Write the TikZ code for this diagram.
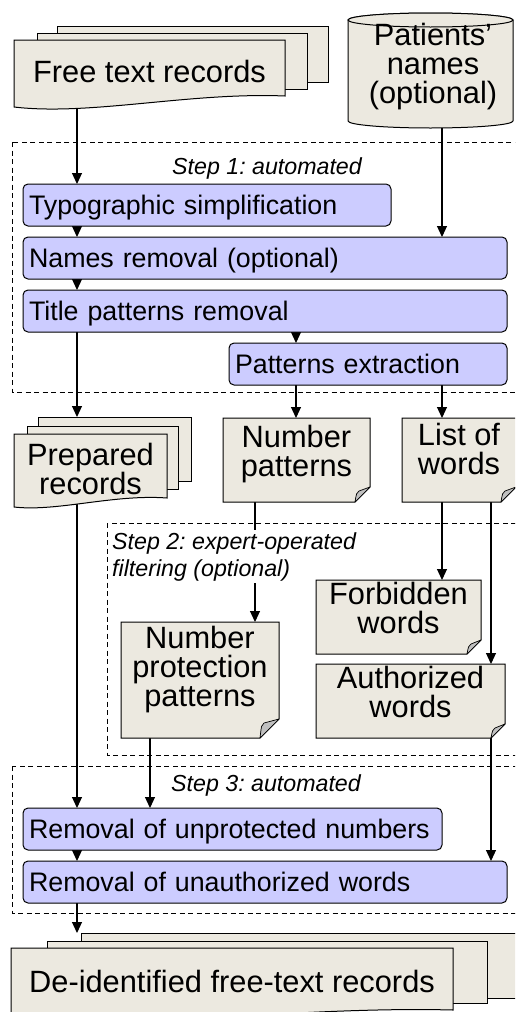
\documentclass[tikz,border=0pt]{standalone}
\usepackage{fontspec}
\setmainfont{Liberation Sans}
\usetikzlibrary{arrows.meta,calc}
\pgfdeclarelayer{bg}
\pgfsetlayers{bg,main}
\definecolor{lav}{RGB}{204,204,255}
\definecolor{docfill}{RGB}{236,233,224}
\definecolor{foldfill}{RGB}{192,192,192}
\newcommand\bigfont{\fontsize{30.8pt}{29pt}\selectfont}
\newcommand\procfont{\fontsize{26.8pt}{30pt}\selectfont}
\newcommand\stepfont{\fontsize{23.2pt}{27pt}\selectfont\itshape}
\lineskiplimit=-100pt
\frenchspacing
% L, T, R, yRight, yLeft, dip
\newcommand\wavedoc[6]{\draw[docshape] (#1,#2) -- (#3,#2) -- (#3,#4) .. controls ({#1+0.65*(#3-#1)},{#4-4}) and ({#1+0.28*(#3-#1)},{#5+#6}) .. (#1,#5) -- cycle;}
% L, T, R, B, fold
\newcommand\notedoc[5]{\draw[docshape] (#1,#2) -- (#3,#2) -- (#3,{#4-#5}) -- ({#3-#5},#4) -- (#1,#4) -- cycle;
  \draw[fold] (#3,{#4-#5}) -- ({#3-#5},#4) .. controls ({#3-#5+1.5},{#4-#5+6}) .. ({#3-#5+4},{#4-#5+4}) -- cycle;}
\tikzset{
  proc/.style={draw=black, fill=lav, line width=1pt, rounded corners=5pt, anchor=north west,
    inner xsep=6pt, inner ysep=0pt, outer sep=0pt, minimum height=42pt,
    text height=19.2pt, text depth=0pt, align=left, font=\procfont},
  docshape/.style={draw=black, fill=docfill, line width=1pt},
  fold/.style={draw=black, fill=foldfill, line width=0.7pt, line join=round},
  frame/.style={draw=black, line width=0.9pt, dash pattern=on 5pt off 3.5pt},
  conn/.style={draw=black, line width=1.1pt, -{Triangle[length=11pt,width=10pt]}},
  bigtext/.style={font=\bigfont, align=center, inner sep=0pt, anchor=north},
  steptext/.style={font=\stepfont, inner sep=0pt},
  area/.style={inner sep=0pt, outer sep=0pt, anchor=north west},
}
\begin{document}
\begin{tikzpicture}[x=1pt,y=-1pt]
\useasboundingbox (0,0) rectangle (515,1012);
\clip (0,0) rectangle (515,1012);

% connector columns
\coordinate (cA) at (77,0);
\coordinate (cB) at (442,0);
\coordinate (cC) at (296,0);
\coordinate (cD) at (255,0);
\coordinate (cE) at (491,0);
\coordinate (cF) at (150,0);

% step frames
\draw[frame] (12,142) rectangle (530,392);
\draw[frame] (107,523) rectangle (530,755);
\draw[frame] (12,766) rectangle (530,913);

% areas of the shapes
\node[area, minimum width=314pt, minimum height=81pt] (ftr) at (14,26) {};
\node[area, minimum width=165pt, minimum height=115pt] (cyl) at (348,13) {};
\node[area, minimum width=177pt, minimum height=94pt] (prep) at (14,417) {};
\node[area, minimum width=147pt, minimum height=84pt] (numpat) at (223,418) {};
\node[area, minimum width=114pt, minimum height=84pt] (low) at (402,418) {};
\node[area, minimum width=165pt, minimum height=74pt] (forb) at (316,580) {};
\node[area, minimum width=189pt, minimum height=74pt] (auth) at (316,664) {};
\node[area, minimum width=158pt, minimum height=116pt] (npp) at (121,622) {};
\node[area, minimum width=519pt, minimum height=89pt] (deid) at (11,933) {};

% Free text records
\draw[docshape] (57,26) rectangle (328,82);
\draw[docshape] (37,33) rectangle (307,89);
\wavedoc{14}{40}{285}{96}{107}{9}
\node[bigtext, anchor=base] (tftr) at (149.5,82) {Free text records};

% Patients' names
\draw[docshape] (348,20) -- (348,121) arc[start angle=180, end angle=360, x radius=82.5pt, y radius=7pt]
  -- (513,20) arc[start angle=0, end angle=180, x radius=82.5pt, y radius=7pt] -- cycle;
\draw[docshape] (430.5,20) ellipse [x radius=82.5pt, y radius=7pt];
\node[bigtext] (tcyl) at (433,22.5) {Patients’\\names\\(optional)};

% Step 1
\node[steptext, anchor=base] (s1) at (267,174) {Step 1: automated};
\node[proc, text width=356pt] (typo) at (23,184) {Typographic simplification};
\node[proc, text width=472pt] (names) at (23,237) {Names removal (optional)};
\node[proc, text width=472pt] (title) at (23,290) {Title patterns removal};
\node[proc, text width=266pt] (pext) at (229,343) {Patterns extraction};

% Prepared records
\draw[docshape] (38,417) rectangle (191,481);
\draw[docshape] (27,426) rectangle (178,489);
\wavedoc{14}{434}{167}{498}{507}{5}
\node[bigtext] (tprep) at (90.5,442.5) {Prepared\\records};

% Number patterns, List of words
\notedoc{223}{418}{370}{502}{15}
\node[bigtext] (tnumpat) at (296.5,424.5) {Number\\patterns};
\notedoc{402}{418}{516}{502}{15}
\node[bigtext] (tlow) at (459,423) {List of\\words};

% Step 2
\node[steptext, anchor=north west, fill=white, inner sep=2pt, align=left] (s2) at (110,530) {Step 2: expert-operated\\filtering (optional)};
\notedoc{316}{580}{481}{654}{14}
\node[bigtext] (tforb) at (398.5,582) {Forbidden\\words};
\notedoc{316}{664}{505}{738}{14}
\node[bigtext] (tauth) at (410.5,666) {Authorized\\words};
\notedoc{121}{622}{279}{738}{19}
\node[bigtext] (tnpp) at (200,626) {Number\\protection\\patterns};

% Step 3
\node[steptext, anchor=base] (s3) at (266,791) {Step 3: automated};
\node[proc, text width=407pt] (rem1) at (23,808) {Removal of unprotected numbers};
\node[proc, text width=472pt] (rem2) at (23,861) {Removal of unauthorized words};

% De-identified records
\draw[docshape] (81,933) rectangle (530,998);
\draw[docshape] (47,941) rectangle (487,1003);
\wavedoc{11}{948}{453}{1010}{1020}{10}
\node[bigtext, anchor=base] (tdeid) at (232,992) {De-identified free-text records};

% connectors
\begin{pgfonlayer}{bg}
\draw[conn] (ftr.center -| cA) -- (typo.north -| cA);
\draw[conn] (typo.center -| cA) -- (names.north -| cA);
\draw[conn] (names.center -| cA) -- (title.north -| cA);
\draw[conn] (cyl.center -| cB) -- (names.north -| cB);
\draw[conn] (title.center -| cC) -- (pext.north -| cC);
\draw[conn] (title.center -| cA) -- (prep.north -| cA);
\draw[conn] (pext.center -| cC) -- (numpat.north -| cC);
\draw[conn] (pext.center -| cB) -- (low.north -| cB);
\draw[conn] (numpat.center -| cD) -- (npp.north -| cD);
\draw[conn] (low.center -| cB) -- (forb.north -| cB);
\draw[conn] (low.center -| cE) -- (auth.north -| cE);
\draw[conn] (prep.center -| cA) -- (rem1.north -| cA);
\draw[conn] (npp.center -| cF) -- (rem1.north -| cF);
\draw[conn] (auth.center -| cE) -- (rem2.north -| cE);
\draw[conn] (rem1.center -| cA) -- (rem2.north -| cA);
\draw[conn] (rem2.center -| cA) -- (deid.north -| cA);
\end{pgfonlayer}
\end{tikzpicture}
\end{document}
